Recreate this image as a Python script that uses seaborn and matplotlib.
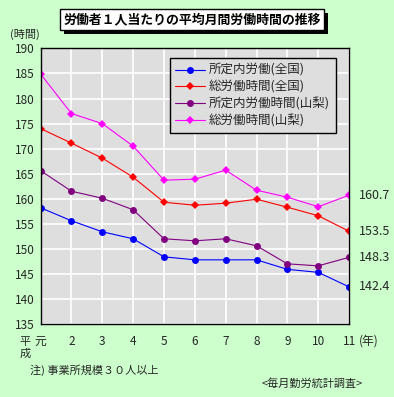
import pandas as pd
import matplotlib
matplotlib.use('Agg')
import matplotlib.pyplot as plt
import matplotlib.patheffects as pe
import seaborn as sns

years = [1, 2, 3, 4, 5, 6, 7, 8, 9, 10, 11]
year_labels = ['元', '2', '3', '4', '5', '6', '7', '8', '9', '10', '11']
series_names = ['所定内労働(全国)', '総労働時間(全国)', '所定内労働時間(山梨)', '総労働時間(山梨)']
shotei_zenkoku = [158.2, 155.6, 153.4, 152.0, 148.4, 147.8, 147.8, 147.8, 145.9, 145.3, 142.4]
sou_zenkoku = [174.0, 171.1, 168.1, 164.3, 159.3, 158.7, 159.1, 159.9, 158.3, 156.6, 153.5]
shotei_yamanashi = [165.6, 161.5, 160.1, 157.8, 152.0, 151.6, 152.0, 150.6, 147.0, 146.6, 148.3]
sou_yamanashi = [184.9, 177.0, 175.0, 170.5, 163.7, 163.9, 165.7, 161.7, 160.3, 158.4, 160.7]
end_labels = ['142.4', '153.5', '148.3', '160.7']

colors = ['#0000FF', '#FF0000', '#800080', '#FF00FF']
markers = ['o', 'D', 'o', 'D']
marker_sizes = [5, 4, 5, 4]

sns.set_style('white')
plt.rcParams['font.family'] = ['Noto Sans CJK JP', 'DejaVu Sans']

values = [shotei_zenkoku, sou_zenkoku, shotei_yamanashi, sou_yamanashi]
df = pd.concat([
    pd.DataFrame({'year': years, 'hours': v, 'series': name})
    for name, v in zip(series_names, values)
])

fig = plt.figure(figsize=(3.94, 3.97), dpi=100)
fig.patch.set_facecolor('#CCFFCC')
ax = fig.add_axes([0.103, 0.184, 0.783, 0.694])
ax.set_facecolor('#DEDEDE')

sns.lineplot(data=df, x='year', y='hours', hue='series', style='series',
             palette=dict(zip(series_names, colors)),
             markers=dict(zip(series_names, markers)), dashes=False,
             markeredgewidth=0, linewidth=0.8, ax=ax)
for line, ms in zip(ax.get_lines(), marker_sizes):
    line.set_markersize(ms)

ax.set_xlim(1, 11)
ax.set_ylim(135, 190)
ax.set_yticks(range(135, 191, 5))
ax.set_xticks(years)
ax.set_xticklabels(year_labels)
ax.tick_params(axis='y', length=0, labelsize=8.5, pad=4)
ax.tick_params(axis='x', length=0, labelsize=8.5, pad=8)
ax.grid(True, color='white', linewidth=1.2)
ax.set_axisbelow(True)
for s in ax.spines.values():
    s.set_color('black')
    s.set_linewidth(1)
ax.set_xlabel('')
ax.set_ylabel('')

leg = ax.legend(loc='upper right', bbox_to_anchor=(0.977, 0.987), fontsize=9,
                frameon=True, fancybox=False, edgecolor='black',
                facecolor='#DEDEDE', framealpha=1, handlelength=2.4,
                borderpad=0.45, labelspacing=0.3, handletextpad=0.3)
leg.get_frame().set_linewidth(1)
for h, ms in zip(leg.get_lines(), marker_sizes):
    h.set_markersize(ms)

# end value labels
for v, lab in zip(values, end_labels):
    ax.annotate(lab, (11, v[-1]), xytext=(7, 0), textcoords='offset points',
                va='center', ha='left', fontsize=9, annotation_clip=False)

fig.text(0.025, 0.913, '(時間)', fontsize=8, ha='left', va='center')
fig.text(0.063, 0.124, '平\n成', fontsize=8, ha='center', va='center', linespacing=1.25)
fig.text(0.91, 0.141, '(年)', fontsize=8.5, ha='left', va='center')
fig.text(0.075, 0.068, '注) 事業所規模３０人以上', fontsize=8, ha='left', va='center')
fig.text(0.92, 0.033, '<毎月勤労統計調査>', fontsize=8, ha='right', va='center')

title = '労働者１人当たりの平均月間労働時間の推移'
t = fig.text(0.487, 0.951, title, fontsize=9.3, fontweight='bold',
             ha='center', va='center', color='black',
             bbox=dict(boxstyle='square,pad=0.25', facecolor='white',
                       edgecolor='black', linewidth=1))
t.get_bbox_patch().set_path_effects([
    pe.withSimplePatchShadow(offset=(3, -3), shadow_rgbFace='black', alpha=1)
])

fig.savefig('out.png', dpi=100, facecolor=fig.get_facecolor())
